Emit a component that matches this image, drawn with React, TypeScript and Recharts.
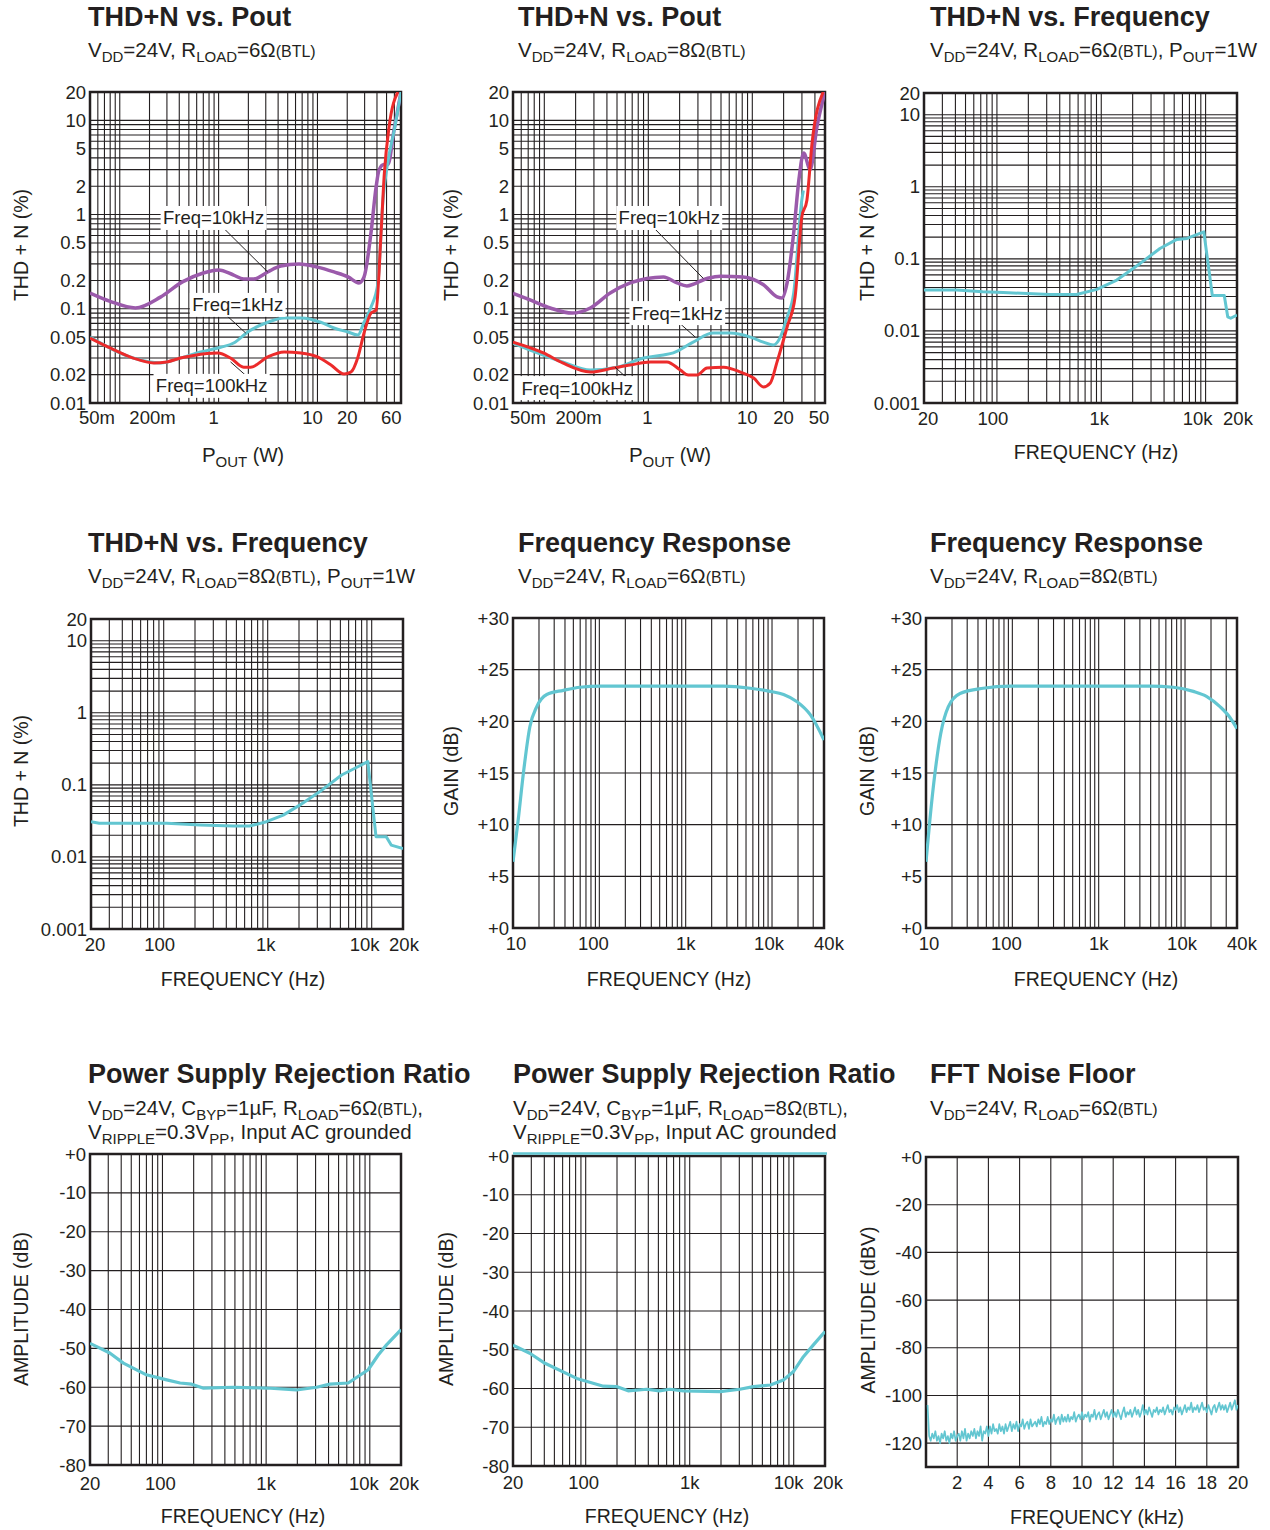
import React from 'react';
import {
  LineChart,
  Line,
  XAxis,
  YAxis,
  CartesianGrid,
  ReferenceArea,
  ReferenceLine,
  ReferenceDot,
} from 'recharts';

const INK = '#231f20';
const CYAN = '#62c6d1';
const PURPLE = '#9b5aab';
const RED = '#ec2b2b';
const FONT = '"Liberation Sans", Arial, Helvetica, sans-serif';

type Pt = [number, number];
type Lbl = [number, string];

// ---------- THD+N vs Pout, 6 ohm (x: W, y: %) ----------
const thdPout6_10k: Pt[] = [
  [0.05, 0.147], [0.08, 0.12], [0.144, 0.102], [0.258, 0.133], [0.43, 0.193], [0.7, 0.24],
  [1.0, 0.258], [1.42, 0.228], [1.79, 0.207], [2.27, 0.207], [3.14, 0.246], [4.26, 0.284],
  [6.5, 0.298], [10, 0.277], [14.7, 0.246], [20.4, 0.218], [26.3, 0.188], [29.6, 0.218],
  [34.8, 0.64], [39.2, 1.96], [42, 2.98], [47, 3.4], [51.6, 3.4], [59.5, 7.9], [70, 20],
];
const thdPout6_1k: Pt[] = [
  [0.05, 0.05], [0.137, 0.03], [0.258, 0.0266], [0.41, 0.03], [0.656, 0.0348], [1.05, 0.039],
  [1.42, 0.0433], [1.97, 0.0567], [3.14, 0.072], [4.6, 0.08], [6.8, 0.08], [10.8, 0.072],
  [14.7, 0.0625], [20.4, 0.0567], [25.7, 0.0527], [29.6, 0.072], [34.8, 0.104], [40.9, 0.188],
  [46, 1.42], [51, 3.4], [60, 8], [70, 20],
];
const thdPout6_100k: Pt[] = [
  [0.05, 0.049], [0.08, 0.0384], [0.137, 0.03], [0.22, 0.0266], [0.3, 0.0273], [0.41, 0.03],
  [0.56, 0.032], [0.98, 0.0339], [1.32, 0.03], [1.79, 0.024], [2.11, 0.024], [3.14, 0.0308],
  [4.6, 0.0348], [6.8, 0.0339], [10, 0.0308], [13.7, 0.0253], [18.6, 0.0203], [21.8, 0.0213],
  [25.7, 0.0308], [29.6, 0.0553], [34.8, 0.09], [39.2, 0.097], [44, 0.64], [47.5, 2.76],
  [53, 8.5], [65, 20],
];

// ---------- THD+N vs Pout, 8 ohm ----------
const thdPout8_10k: Pt[] = [
  [0.05, 0.146], [0.073, 0.124], [0.114, 0.102], [0.185, 0.09], [0.277, 0.102], [0.43, 0.147],
  [0.67, 0.188], [0.97, 0.21], [1.4, 0.218], [1.89, 0.188], [2.35, 0.175], [3.67, 0.21],
  [4.93, 0.222], [8.2, 0.218], [12.8, 0.18], [17.3, 0.134], [19.3, 0.13], [21.6, 0.188],
  [25, 0.64], [28, 2.3], [31.2, 4.5], [36, 3.0], [41.8, 8.5], [50, 20],
];
const thdPout8_1k: Pt[] = [
  [0.05, 0.0433], [0.073, 0.0365], [0.15, 0.0273], [0.277, 0.0224], [0.5, 0.024], [0.9, 0.03],
  [1.4, 0.0323], [1.74, 0.034], [2.7, 0.0443], [4.2, 0.0553], [6.1, 0.0553], [9.6, 0.05],
  [12.8, 0.0443], [15.9, 0.0412], [18.6, 0.05], [21.6, 0.0816], [25, 0.147], [29.9, 1.42],
  [31, 1.8],
];
const thdPout8_100k: Pt[] = [
  [0.05, 0.0443], [0.098, 0.034], [0.15, 0.0266], [0.277, 0.0213], [0.46, 0.0235], [0.67, 0.0253],
  [1.05, 0.0273], [1.51, 0.0273], [2.03, 0.0224], [2.42, 0.0198], [2.94, 0.0198], [3.67, 0.0235],
  [5.3, 0.024], [7.7, 0.0213], [10.3, 0.0184], [12.8, 0.0148], [14.9, 0.0163], [17.3, 0.0273],
  [21.6, 0.0641], [25.8, 0.134], [29.9, 0.94], [33.5, 1.42], [37.5, 5.7], [48, 20],
];

// ---------- THD+N vs Frequency (x: Hz, y: %) ----------
const thdFreq6: Pt[] = [
  [20, 0.0369], [41, 0.037], [73, 0.035], [115, 0.034], [194, 0.033], [322, 0.032], [580, 0.032],
  [907, 0.0377], [1410, 0.0508], [2360, 0.0864], [3650, 0.139], [5300, 0.186], [6640, 0.192],
  [9620, 0.237], [11600, 0.031], [15100, 0.031], [16300, 0.0157], [17400, 0.015], [20000, 0.0166],
];
const thdFreq8: Pt[] = [
  [20, 0.0308], [24, 0.0293], [51, 0.0293], [107, 0.0293], [224, 0.0277], [466, 0.0268],
  [670, 0.0268], [973, 0.0308], [1410, 0.038], [2030, 0.0523], [3150, 0.08], [5140, 0.137],
  [6900, 0.17], [9180, 0.21], [11000, 0.0191], [13800, 0.0191], [15400, 0.0146], [20000, 0.0131],
];

// ---------- Frequency response (x: Hz, y: dB) ----------
const gain6: Pt[] = [
  [10, 6.4], [11.5, 10.5], [13.2, 15], [15.7, 19.5], [18.8, 21.4], [24.6, 22.6], [38.3, 23.0],
  [59.8, 23.3], [102, 23.4], [550, 23.4], [2750, 23.4], [5600, 23.2], [9500, 22.9], [13600, 22.6],
  [19500, 21.9], [28000, 20.6], [40000, 18.2],
];
const gain8: Pt[] = [
  [10, 6.4], [11.1, 10.5], [12.7, 15], [14.8, 18.8], [18.1, 21.4], [24.8, 22.7], [46, 23.2],
  [94, 23.4], [3950, 23.4], [7300, 23.3], [12500, 22.9], [17900, 22.4], [25600, 21.4],
  [33000, 20.4], [40000, 19.3],
];

// ---------- PSRR (x: Hz, y: dB) ----------
const psrr6: Pt[] = [
  [20, -48.7], [31, -51.2], [42, -53.8], [70, -56.8], [110, -58.1], [148, -58.9], [191, -59.2],
  [246, -60.2], [481, -60], [1010, -60.2], [1960, -60.7], [3070, -60], [4120, -59.2],
  [6190, -58.9], [9650, -55.5], [12060, -51.7], [14500, -49.1], [20000, -45.2],
];
const psrr8: Pt[] = [
  [20, -48.8], [29, -50.9], [40.6, -53.5], [82, -57.4], [148, -59.4], [198, -59.5], [256, -60.6],
  [387, -60.2], [510, -60.6], [643, -60.2], [870, -60.6], [1960, -60.8], [3030, -60.2],
  [4100, -59.5], [5970, -59.1], [7960, -57.8], [9900, -55.7], [12400, -51.8], [15400, -48.8],
  [20000, -45.3],
];

// ---------- FFT noise floor (dBV, one reading every 0.1 kHz from 0.1 to 20 kHz) ----------
const fftStartKHz = 0.1;
const fftStepKHz = 0.1;
const fftNoiseDbv: number[] = [
  -104, -117, -119, -116, -118, -115, -119, -117, -120, -116,
  -118, -115, -119, -117, -120, -116, -118, -115, -119, -117,
  -116, -119, -115, -118, -114, -119, -116, -118, -115, -117,
  -114, -118, -115, -117, -113, -119, -115, -116, -113, -117,
  -113, -116, -112, -115, -114, -116, -112, -115, -113, -116,
  -112, -115, -113, -111, -115, -112, -114, -111, -115, -112,
  -113, -110, -114, -112, -111, -114, -110, -113, -112, -111,
  -113, -110, -112, -109, -113, -111, -112, -109, -112, -110,
  -111, -108, -112, -110, -109, -112, -108, -111, -109, -111,
  -108, -111, -109, -110, -107, -111, -109, -108, -110, -107,
  -110, -108, -109, -107, -111, -108, -109, -106, -110, -108,
  -107, -110, -108, -106, -109, -107, -110, -108, -106, -109,
  -107, -109, -106, -108, -110, -107, -105, -109, -107, -108,
  -106, -109, -107, -105, -108, -106, -109, -107, -104, -108,
  -106, -108, -105, -107, -109, -106, -107, -105, -108, -106,
  -107, -105, -108, -106, -104, -107, -106, -108, -105, -106,
  -104, -107, -105, -108, -106, -104, -107, -105, -106, -103,
  -107, -105, -106, -104, -107, -105, -103, -106, -105, -107,
  -104, -106, -108, -105, -104, -107, -105, -103, -106, -104,
  -106, -104, -107, -105, -103, -106, -104, -102, -106, -104,
];
const fftNoise: Pt[] = fftNoiseDbv.map((v, i) => [Number((fftStartKHz + i * fftStepKHz).toFixed(2)), v]);

// ---------- tick labels ----------
const poutLabels6: Lbl[] = [[0.05, '50m'], [0.2, '200m'], [1, '1'], [10, '10'], [20, '20'], [60, '60']];
const poutLabels8: Lbl[] = [[0.05, '50m'], [0.2, '200m'], [1, '1'], [10, '10'], [20, '20'], [50, '50']];
const thdPoutYLabels: Lbl[] = [
  [0.01, '0.01'], [0.02, '0.02'], [0.05, '0.05'], [0.1, '0.1'], [0.2, '0.2'], [0.5, '0.5'],
  [1, '1'], [2, '2'], [5, '5'], [10, '10'], [20, '20'],
];
const thdFreqYLabels: Lbl[] = [[0.001, '0.001'], [0.01, '0.01'], [0.1, '0.1'], [1, '1'], [10, '10'], [20, '20']];
const audioXLabels: Lbl[] = [[20, '20'], [100, '100'], [1000, '1k'], [10000, '10k'], [20000, '20k']];
const gainXLabels: Lbl[] = [[10, '10'], [100, '100'], [1000, '1k'], [10000, '10k'], [40000, '40k']];
const gainYLabels: Lbl[] = [[0, '+0'], [5, '+5'], [10, '+10'], [15, '+15'], [20, '+20'], [25, '+25'], [30, '+30']];
const psrrYLabels: Lbl[] = [
  [0, '+0'], [-10, '-10'], [-20, '-20'], [-30, '-30'], [-40, '-40'], [-50, '-50'], [-60, '-60'],
  [-70, '-70'], [-80, '-80'],
];
const fftXLabels: Lbl[] = [[2, '2'], [4, '4'], [6, '6'], [8, '8'], [10, '10'], [12, '12'], [14, '14'], [16, '16'], [18, '18'], [20, '20']];
const fftYLabels: Lbl[] = [[0, '+0'], [-20, '-20'], [-40, '-40'], [-60, '-60'], [-80, '-80'], [-100, '-100'], [-120, '-120']];

// grid lines
const gainGrid = [0, 5, 10, 15, 20, 25, 30];
const psrrGrid = [-80, -70, -60, -50, -40, -30, -20, -10, 0];
const fftXGrid = [0, 2, 4, 6, 8, 10, 12, 14, 16, 18, 20];
const fftYGrid = [-120, -100, -80, -60, -40, -20, 0];

function logGrid(lo: number, hi: number): number[] {
  const out: number[] = [];
  for (let e = -4; e <= 5; e++) {
    for (let m = 1; m <= 9; m++) {
      const v = Number((m * Math.pow(10, e)).toPrecision(6));
      if (v >= lo * 0.9999 && v <= hi * 1.0001) out.push(v);
    }
  }
  return out;
}

// ---------- drawing ----------
const ML = 90;
const MR = 30;
const MT = 12;
const MB = 36;
const TICK_FS = 18.5;

type SeriesCfg = { data: Pt[]; color: string; width?: number; curve?: 'monotone' | 'linear' };
type PanelCfg = {
  left: number; top: number; w: number; h: number;
  xLog?: boolean; xDomain: [number, number]; xTicks: number[]; xLabels: Lbl[];
  xLabelDx?: number[]; xLabelDy?: number;
  yLog?: boolean; yDomain: [number, number]; yTicks: number[]; yLabels: Lbl[];
  series: SeriesCfg[];
  extras?: React.ReactElement[];
};

function findLabel(labels: Lbl[], v: number): number {
  return labels.findIndex((l) => Math.abs(l[0] - v) <= Math.abs(l[0]) * 1e-6 + 1e-9);
}

const tickStyle: React.CSSProperties = { fontFamily: FONT, fontSize: TICK_FS, fill: INK };

function Panel(c: PanelCfg) {
  const xTick = (p: any) => {
    const i = findLabel(c.xLabels, p?.payload?.value);
    if (i < 0) return <g />;
    const dx = c.xLabelDx ? c.xLabelDx[i] || 0 : 0;
    return (
      <text x={p.x + dx} y={p.y + (c.xLabelDy ?? 15)} textAnchor="middle" dominantBaseline="central" style={tickStyle}>
        {c.xLabels[i][1]}
      </text>
    );
  };
  const yTick = (p: any) => {
    const i = findLabel(c.yLabels, p?.payload?.value);
    if (i < 0) return <g />;
    return (
      <text x={p.x - 4} y={p.y} textAnchor="end" dominantBaseline="central" style={tickStyle}>
        {c.yLabels[i][1]}
      </text>
    );
  };
  return (
    <div style={{ position: 'absolute', left: c.left - ML, top: c.top - MT }}>
      <LineChart
        width={c.w + ML + MR}
        height={c.h + MT + MB}
        margin={{ top: MT, right: MR, left: 0, bottom: 0 }}
      >
        <CartesianGrid stroke={INK} strokeWidth={1.1} />
        <XAxis
          type="number"
          dataKey="x"
          scale={c.xLog ? 'log' : 'linear'}
          domain={c.xDomain}
          ticks={c.xTicks}
          interval={0}
          allowDataOverflow
          axisLine={false}
          tickLine={false}
          tickSize={0}
          tickMargin={0}
          height={MB}
          tick={xTick}
        />
        <YAxis
          type="number"
          dataKey="y"
          scale={c.yLog ? 'log' : 'linear'}
          domain={c.yDomain}
          ticks={c.yTicks}
          interval={0}
          allowDataOverflow
          axisLine={false}
          tickLine={false}
          tickSize={0}
          tickMargin={0}
          width={ML}
          tick={yTick}
        />
        {c.series.map((s, i) => (
          <Line
            key={'s' + i}
            data={s.data.map(([x, y]) => ({ x, y }))}
            dataKey="y"
            type={s.curve ?? 'monotone'}
            stroke={s.color}
            strokeWidth={s.width ?? 3}
            strokeLinejoin="round"
            dot={false}
            activeDot={false}
            isAnimationActive={false}
          />
        ))}
        <ReferenceArea
          x1={c.xDomain[0]}
          x2={c.xDomain[1]}
          y1={c.yDomain[0]}
          y2={c.yDomain[1]}
          fill="none"
          fillOpacity={0}
          stroke={INK}
          strokeWidth={2.5}
          ifOverflow="visible"
        />
        {c.extras}
      </LineChart>
    </div>
  );
}

function LabelTag({ cx, cy, text }: { cx: number; cy: number; text: string }) {
  const w = text.length * 10.2 + 4;
  return (
    <g>
      <rect x={cx - w / 2} y={cy - 12} width={w} height={24} fill="#fff" />
      <text x={cx} y={cy} textAnchor="middle" dominantBaseline="central" style={tickStyle}>
        {text}
      </text>
    </g>
  );
}

function tag(key: string, x: number, y: number, text: string) {
  return (
    <ReferenceDot
      key={key}
      x={x}
      y={y}
      r={0}
      ifOverflow="visible"
      shape={(p: any) => <LabelTag cx={p.cx} cy={p.cy} text={text} />}
    />
  );
}

function leader(key: string, x1: number, y1: number, x2: number, y2: number) {
  return (
    <ReferenceLine
      key={key}
      segment={[{ x: x1, y: y1 }, { x: x2, y: y2 }]}
      stroke={INK}
      strokeWidth={1}
      ifOverflow="visible"
    />
  );
}

// ---------- text helpers ----------
const Sub = ({ children }: { children: React.ReactNode }) => (
  <span style={{ fontSize: 15, position: 'relative', top: 5 }}>{children}</span>
);
const Small = ({ children }: { children: React.ReactNode }) => <span style={{ fontSize: 16 }}>{children}</span>;

function Title({ x, y, children }: { x: number; y: number; children: React.ReactNode }) {
  return (
    <div style={{ position: 'absolute', left: x, top: y, fontFamily: FONT, fontWeight: 700, fontSize: 27, lineHeight: 1, color: INK, whiteSpace: 'nowrap' }}>
      {children}
    </div>
  );
}
function Subtitle({ x, y, children }: { x: number; y: number; children: React.ReactNode }) {
  return (
    <div style={{ position: 'absolute', left: x, top: y, fontFamily: FONT, fontSize: 20.5, lineHeight: 1, color: INK, whiteSpace: 'nowrap' }}>
      {children}
    </div>
  );
}
function XTitle({ x, y, children }: { x: number; y: number; children: React.ReactNode }) {
  return (
    <div style={{ position: 'absolute', left: x, top: y, transform: 'translate(-50%, -50%)', fontFamily: FONT, fontSize: 19.5, lineHeight: 1, color: INK, whiteSpace: 'nowrap' }}>
      {children}
    </div>
  );
}
function YTitle({ x, y, children }: { x: number; y: number; children: React.ReactNode }) {
  return (
    <div style={{ position: 'absolute', left: x, top: y, transform: 'translate(-50%, -50%) rotate(-90deg)', fontFamily: FONT, fontSize: 19.5, lineHeight: 1, color: INK, whiteSpace: 'nowrap' }}>
      {children}
    </div>
  );
}

const Pout = () => (
  <>
    <span style={{ fontSize: 20.5 }}>P</span>
    <Sub>OUT</Sub> (W)
  </>
);

export default function App() {
  const thdPoutY = logGrid(0.01, 20);
  const thdFreqY = logGrid(0.001, 20);
  const audioX = logGrid(20, 20000);
  const gainX = logGrid(10, 40000);

  return (
    <div style={{ position: 'absolute', left: 0, top: 0, width: 1270, height: 1530, background: '#fff', overflow: 'hidden' }}>
      {/* Row 1 */}
      <Title x={88} y={4}>THD+N vs. Pout</Title>
      <Subtitle x={88} y={40}>V<Sub>DD</Sub>=24V, R<Sub>LOAD</Sub>=6Ω<Small>(BTL)</Small></Subtitle>
      <Panel
        left={90} top={92} w={311} h={311}
        xLog xDomain={[0.05, 70]} xTicks={logGrid(0.05, 70)} xLabels={poutLabels6} xLabelDx={[7, 3, -5, -5, 0, -3]} xLabelDy={14}
        yLog yDomain={[0.01, 20]} yTicks={thdPoutY} yLabels={thdPoutYLabels}
        series={[
          { data: thdPout6_10k, color: PURPLE, width: 3.5 },
          { data: thdPout6_1k, color: CYAN, width: 3 },
          { data: thdPout6_100k, color: RED, width: 3 },
        ]}
        extras={[
          leader('l1', 1.0, 0.81, 3.14, 0.246),
          leader('l2', 1.05, 0.097, 1.88, 0.0553),
          leader('l3', 1.32, 0.0273, 2.02, 0.0184),
          tag('t1', 0.89, 0.92, 'Freq=10kHz'),
          tag('t2', 1.56, 0.11, 'Freq=1kHz'),
          tag('t3', 0.85, 0.0152, 'Freq=100kHz'),
        ]}
      />
      <YTitle x={22} y={245}>THD + N (%)</YTitle>
      <XTitle x={243} y={455}><Pout /></XTitle>

      <Title x={518} y={4}>THD+N vs. Pout</Title>
      <Subtitle x={518} y={40}>V<Sub>DD</Sub>=24V, R<Sub>LOAD</Sub>=8Ω<Small>(BTL)</Small></Subtitle>
      <Panel
        left={513} top={92} w={312} h={311}
        xLog xDomain={[0.05, 50]} xTicks={logGrid(0.05, 50)} xLabels={poutLabels8} xLabelDx={[15, 3, -1, -5, 0, -6]} xLabelDy={14}
        yLog yDomain={[0.01, 20]} yTicks={thdPoutY} yLabels={thdPoutYLabels}
        series={[
          { data: thdPout8_10k, color: PURPLE, width: 3.5 },
          { data: thdPout8_1k, color: CYAN, width: 3 },
          { data: thdPout8_100k, color: RED, width: 3 },
        ]}
        extras={[
          leader('l1', 1.0, 0.83, 3.38, 0.21),
          leader('l2', 1.63, 0.086, 2.83, 0.05),
          leader('l3', 0.48, 0.024, 0.7, 0.0163),
          tag('t1', 1.59, 0.92, 'Freq=10kHz'),
          tag('t2', 1.9, 0.09, 'Freq=1kHz'),
          tag('t3', 0.207, 0.0144, 'Freq=100kHz'),
        ]}
      />
      <YTitle x={452} y={245}>THD + N (%)</YTitle>
      <XTitle x={670} y={455}><Pout /></XTitle>

      <Title x={930} y={4}>THD+N vs. Frequency</Title>
      <Subtitle x={930} y={40}>V<Sub>DD</Sub>=24V, R<Sub>LOAD</Sub>=6Ω<Small>(BTL)</Small>, P<Sub>OUT</Sub>=1W</Subtitle>
      <Panel
        left={924} top={93} w={313} h={310}
        xLog xDomain={[20, 20000]} xTicks={audioX} xLabels={audioXLabels} xLabelDx={[4, -4, -2, -8, 1]} xLabelDy={15}
        yLog yDomain={[0.001, 20]} yTicks={thdFreqY} yLabels={thdFreqYLabels}
        series={[{ data: thdFreq6, color: CYAN, width: 3, curve: 'linear' }]}
      />
      <YTitle x={868} y={245}>THD + N (%)</YTitle>
      <XTitle x={1096} y={453}>FREQUENCY (Hz)</XTitle>

      {/* Row 2 */}
      <Title x={88} y={530}>THD+N vs. Frequency</Title>
      <Subtitle x={88} y={566}>V<Sub>DD</Sub>=24V, R<Sub>LOAD</Sub>=8Ω<Small>(BTL)</Small>, P<Sub>OUT</Sub>=1W</Subtitle>
      <Panel
        left={91} top={619} w={312} h={310}
        xLog xDomain={[20, 20000]} xTicks={audioX} xLabels={audioXLabels} xLabelDx={[4, -4, -2, -7, 1]} xLabelDy={15}
        yLog yDomain={[0.001, 20]} yTicks={thdFreqY} yLabels={thdFreqYLabels}
        series={[{ data: thdFreq8, color: CYAN, width: 3, curve: 'linear' }]}
      />
      <YTitle x={22} y={771}>THD + N (%)</YTitle>
      <XTitle x={243} y={980}>FREQUENCY (Hz)</XTitle>

      <Title x={518} y={530}>Frequency Response</Title>
      <Subtitle x={518} y={566}>V<Sub>DD</Sub>=24V, R<Sub>LOAD</Sub>=6Ω<Small>(BTL)</Small></Subtitle>
      <Panel
        left={513} top={618} w={311} h={310}
        xLog xDomain={[10, 40000]} xTicks={gainX} xLabels={gainXLabels} xLabelDx={[3, -6, 0, -3, 5]} xLabelDy={15}
        yDomain={[0, 30]} yTicks={gainGrid} yLabels={gainYLabels}
        series={[{ data: gain6, color: CYAN, width: 3.2 }]}
      />
      <YTitle x={452} y={771}>GAIN (dB)</YTitle>
      <XTitle x={669} y={980}>FREQUENCY (Hz)</XTitle>

      <Title x={930} y={530}>Frequency Response</Title>
      <Subtitle x={930} y={566}>V<Sub>DD</Sub>=24V, R<Sub>LOAD</Sub>=8Ω<Small>(BTL)</Small></Subtitle>
      <Panel
        left={926} top={618} w={311} h={310}
        xLog xDomain={[10, 40000]} xTicks={gainX} xLabels={gainXLabels} xLabelDx={[3, -6, 0, -3, 5]} xLabelDy={15}
        yDomain={[0, 30]} yTicks={gainGrid} yLabels={gainYLabels}
        series={[{ data: gain8, color: CYAN, width: 3.2 }]}
      />
      <YTitle x={868} y={771}>GAIN (dB)</YTitle>
      <XTitle x={1096} y={980}>FREQUENCY (Hz)</XTitle>

      {/* Row 3 */}
      <Title x={88} y={1061}>Power Supply Rejection Ratio</Title>
      <Subtitle x={88} y={1098}>V<Sub>DD</Sub>=24V, C<Sub>BYP</Sub>=1µF, R<Sub>LOAD</Sub>=6Ω<Small>(BTL)</Small>,</Subtitle>
      <Subtitle x={88} y={1122}>V<Sub>RIPPLE</Sub>=0.3V<Sub>PP</Sub>, Input AC grounded</Subtitle>
      <Panel
        left={90} top={1154} w={311} h={311}
        xLog xDomain={[20, 20000]} xTicks={audioX} xLabels={audioXLabels} xLabelDx={[0, -2, 0, -6, 3]} xLabelDy={18}
        yDomain={[-80, 0]} yTicks={psrrGrid} yLabels={psrrYLabels}
        series={[{ data: psrr6, color: CYAN, width: 3.2, curve: 'linear' }]}
      />
      <YTitle x={22} y={1309}>AMPLITUDE (dB)</YTitle>
      <XTitle x={243} y={1517}>FREQUENCY (Hz)</XTitle>

      <Title x={513} y={1061}>Power Supply Rejection Ratio</Title>
      <Subtitle x={513} y={1098}>V<Sub>DD</Sub>=24V, C<Sub>BYP</Sub>=1µF, R<Sub>LOAD</Sub>=8Ω<Small>(BTL)</Small>,</Subtitle>
      <Subtitle x={513} y={1122}>V<Sub>RIPPLE</Sub>=0.3V<Sub>PP</Sub>, Input AC grounded</Subtitle>
      <Panel
        left={513} top={1156} w={312} h={310}
        xLog xDomain={[20, 20000]} xTicks={audioX} xLabels={audioXLabels} xLabelDx={[0, -2, 0, -5, 3]} xLabelDy={16}
        yDomain={[-80, 0]} yTicks={psrrGrid} yLabels={psrrYLabels}
        series={[{ data: psrr8, color: CYAN, width: 3.2, curve: 'linear' }]}
        extras={[
          <ReferenceLine
            key="top"
            y={0}
            stroke={CYAN}
            strokeWidth={2.5}
            ifOverflow="visible"
            shape={(p: any) => (
              <line x1={p.x1} y1={p.y1 - 2.5} x2={p.x2 + 2} y2={p.y2 - 2.5} stroke={CYAN} strokeWidth={2.5} />
            )}
          />,
        ]}
      />
      <YTitle x={447} y={1309}>AMPLITUDE (dB)</YTitle>
      <XTitle x={667} y={1517}>FREQUENCY (Hz)</XTitle>

      <Title x={930} y={1061}>FFT Noise Floor</Title>
      <Subtitle x={930} y={1098}>V<Sub>DD</Sub>=24V, R<Sub>LOAD</Sub>=6Ω<Small>(BTL)</Small></Subtitle>
      <Panel
        left={926} top={1157} w={312} h={310}
        xDomain={[0, 20]} xTicks={fftXGrid} xLabels={fftXLabels} xLabelDy={15}
        yDomain={[-130, 0]} yTicks={fftYGrid} yLabels={fftYLabels}
        series={[{ data: fftNoise, color: CYAN, width: 1.7, curve: 'linear' }]}
      />
      <YTitle x={869} y={1310}>AMPLITUDE (dBV)</YTitle>
      <XTitle x={1097} y={1518}>FREQUENCY (kHz)</XTitle>
    </div>
  );
}
